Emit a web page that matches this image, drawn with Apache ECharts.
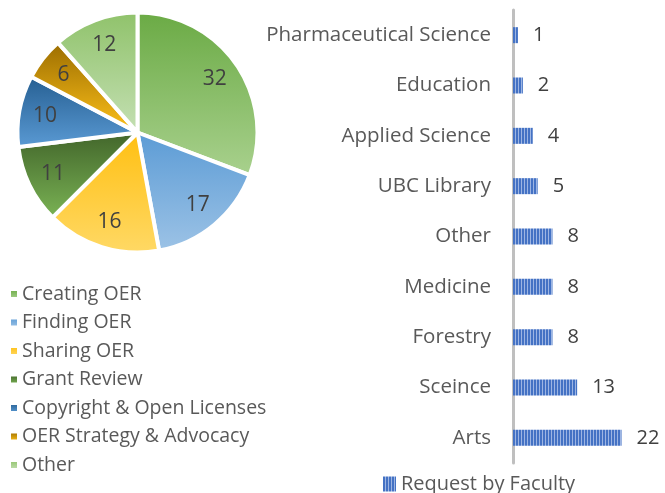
<!DOCTYPE html>
<html><head><meta charset="utf-8">
<script src="https://cdn.jsdelivr.net/npm/echarts@6/dist/echarts.min.js"></script>
<style>html,body{margin:0;padding:0;background:#fff}#c{width:665px;height:493px}</style>
</head><body><div id="c"></div>
<script>
const topicNames = ['Creating OER','Finding OER','Sharing OER','Grant Review','Copyright & Open Licenses','OER Strategy & Advocacy','Other'];
const topicValues = [32,17,16,11,10,6,12];
const topicColors = [['#6aaa44','#a9d18e'],['#5b9bd5','#9dc3e6'],['#ffbf10','#ffd966'],['#41642a','#7bb455'],['#255e91','#5b9bd5'],['#9a6c00','#ffc21a'],['#8fc26a','#c5e0b4']];
const facultyNames = ['Pharmaceutical Science','Education','Applied Science','UBC Library','Other','Medicine','Forestry','Sceince','Arts'];
const facultyValues = [1,2,4,5,8,8,8,13,22];
const FONT = 'Open Sans';

const cv = document.createElement('canvas');
cv.width = 3; cv.height = 4;
const cx = cv.getContext('2d');
cx.fillStyle = '#4472c4'; cx.fillRect(0,0,3,4);
cx.fillStyle = '#9db5e3'; cx.fillRect(2,0,1,4);
const stripe = {image: cv, repeat: 'repeat'};

const grad = (c) => ({type:'linear',x:0,y:0,x2:0,y2:1,colorStops:[{offset:0,color:c[0]},{offset:1,color:c[1]}]});
const pieData = topicNames.map((n,i)=>({name:n,value:topicValues[i],itemStyle:{color:grad(topicColors[i])}}));
const labelData = topicNames.map((n,i)=>({name:n,value:topicValues[i]}));

const chart = echarts.init(document.getElementById('c'));
chart.setOption({
  animation:false,
  textStyle:{fontFamily:FONT},
  legend:[{
    orient:'vertical', left:4, top:279, itemWidth:8, itemHeight:8, itemGap:8.5,
    icon:'rect', data:topicNames,
    textStyle:{fontFamily:FONT,fontSize:19.5,color:'#595959',lineHeight:20,padding:[0,0,0,-1]}
  },{
    left:378, top:468, itemWidth:13, itemHeight:15, icon:'rect', data:['Request by Faculty'],
    textStyle:{fontFamily:FONT,fontSize:20,color:'#595959',lineHeight:22}
  }],
  grid:{left:513, right:4, top:10, bottom:30, containLabel:false},
  xAxis:{type:'value', min:0, max:30, show:false},
  yAxis:{type:'category', data:facultyNames, inverse:true,
    axisLine:{show:true,lineStyle:{color:'#bfbfbf',width:3}},
    axisTick:{show:false},
    axisLabel:{fontFamily:FONT,fontSize:20.5,color:'#595959',margin:22}},
  series:[
    {type:'pie', name:'topics', center:[137.5,132.5], radius:[0,120], startAngle:90, clockwise:true,
     data:pieData, label:{show:false}, labelLine:{show:false},
     itemStyle:{borderColor:'#fff',borderWidth:4}, emphasis:{disabled:true}},
    {type:'pie', name:'labels', center:[137.5,132.5], radius:[62,120], startAngle:90, clockwise:true,
     data:labelData, silent:true, legendHoverLink:false,
     itemStyle:{color:'rgba(0,0,0,0)',borderWidth:0},
     label:{show:true,position:'inside',formatter:'{c}',fontFamily:FONT,fontSize:21,color:'#404040'},
     labelLine:{show:false}, emphasis:{disabled:true}},
    {type:'bar', name:'Request by Faculty', data:facultyValues, barWidth:16,
     itemStyle:{color:stripe},
     label:{show:true,position:'right',distance:15,fontFamily:FONT,fontSize:20,color:'#404040'}}
  ]
});
</script></body></html>
